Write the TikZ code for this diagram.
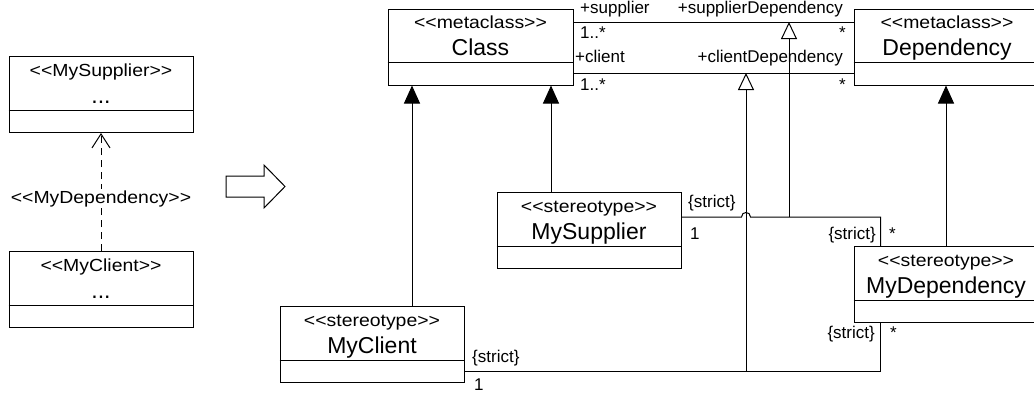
\documentclass[tikz,border=0pt]{standalone}
\usepackage{fontspec}
\setmainfont{Liberation Sans}
\newfontfamily\stfont[FakeStretch=1.11]{Liberation Sans}
\usetikzlibrary{arrows.meta}
\tikzset{
 ubox/.style={draw, line width=1pt, rectangle, inner sep=0pt, minimum height=76pt},
 st/.style={font=\fontsize{17.5}{20}\stfont, inner sep=0pt},
 nm/.style={font=\fontsize{23}{27}\selectfont, inner sep=0pt},
 lbl/.style={font=\fontsize{17}{20}\selectfont, inner sep=0pt},
 lnk/.style={line width=1pt},
 gen/.style={lnk, -{Triangle[length=18pt,width=16pt]}},
 hgen/.style={lnk, -{Triangle[open,length=17pt,width=16pt,fill=white]}},
 deparrow/.style={lnk, dash pattern=on 7pt off 5pt, -{Straight Barb[length=14pt,width=18pt]}}
}
\newcommand\lguil{<\kern0pt<\kern0pt}
\newcommand\rguil{>\kern0pt>}
\newcommand\umlcls[6]{%
 \node[ubox, minimum width=#4pt, anchor=north] (#1) at (#2,#3) {};
 \draw[lnk] ([yshift=-54pt]#1.north west) -- ([yshift=-54pt]#1.north east);
 \node[st, anchor=base] (#1-s) at ([yshift=-20pt]#1.north) {#5};
 \node[nm, anchor=base] (#1-n) at ([yshift=-47pt]#1.north) {#6};
}
\begin{document}
\begin{tikzpicture}[x=1pt,y=-1pt]
\useasboundingbox (0,0) rectangle (1034,394);
\clip (0,0) rectangle (1034,394);
% classes
\umlcls{cls}{480.5}{8.5}{185}{\lguil metaclass\rguil}{Class}
\umlcls{dep}{947}{8.5}{186}{\lguil metaclass\rguil}{Dependency}
\umlcls{msup}{589}{192}{184}{\lguil stereotype\rguil}{MySupplier}
\umlcls{mcli}{372}{306}{184}{\lguil stereotype\rguil}{MyClient}
\umlcls{mdep}{946}{246}{184}{\lguil stereotype\rguil}{MyDependency}
\umlcls{lsup}{101}{56}{184}{\lguil MySupplier\rguil}{...}
\umlcls{lcli}{101}{251}{184}{\lguil MyClient\rguil}{...}
% associations between metaclasses
\coordinate (a1) at ([yshift=-13.5pt]cls.north east);
\coordinate (a2) at ([yshift=-64.5pt]cls.north east);
\draw[lnk] (a1) -- (a1 -| dep.west);
\draw[lnk] (a2) -- (a2 -| dep.west);
\node[lbl, anchor=base west] (l1) at (580,13) {+supplier};
\node[lbl, anchor=base east] (l2) at (843,13) {+supplierDependency};
\node[lbl, anchor=base west] (l3) at (580,38) {1..*};
\node[lbl, anchor=base east] (l4) at (846,38) {*};
\node[lbl, anchor=base west] (l5) at (575,62.7) {+client};
\node[lbl, anchor=base east] (l6) at (843,62.7) {+clientDependency};
\node[lbl, anchor=base west] (l7) at (580,90.7) {1..*};
\node[lbl, anchor=base east] (l8) at (846,90.7) {*};
% stereotype links
\coordinate (s1) at ([yshift=-25pt]msup.north east);
\coordinate (c1) at ([xshift=27pt]mdep.north west);
\coordinate (s2) at ([yshift=-65pt]mcli.north east);
\coordinate (c2) at ([xshift=27pt]mdep.south west);
\coordinate (v1) at (789,0);
\coordinate (v2) at (746,0);
\coordinate (j1) at (s1 -| v1);
\coordinate (j2) at (s2 -| v2);
\coordinate (h) at (s1 -| v2);
\draw[lnk] (s1) -- ([xshift=-4.5pt]h) .. controls ([xshift=-4.5pt,yshift=6pt]h) and ([xshift=4.5pt,yshift=6pt]h) .. ([xshift=4.5pt]h) -- (s1 -| c1) -- (c1);
\draw[lnk] (s2) -- (s2 -| c2) -- (c2);
\draw[hgen] (j1) -- (j1 |- a1);
\draw[hgen] (j2) -- (j2 |- a2);
% generalizations
\coordinate (g1) at ([xshift=40pt]mcli.north);
\coordinate (g2) at ([xshift=-38pt]msup.north);
\draw[gen] (g1) -- (g1 |- cls.south);
\draw[gen] (g2) -- (g2 |- cls.south);
\draw[gen] (mdep.north) -- (mdep.north |- dep.south);
% link labels
\node[lbl, anchor=base west] (t1) at (688,207) {\{strict\}};
\node[lbl, anchor=base west] (t2) at (690,239) {1};
\node[lbl, anchor=base east] (t3) at (876,239) {\{strict\}};
\node[lbl, anchor=base west] (t4) at (889,239) {*};
\node[lbl, anchor=base west] (t5) at (472,362) {\{strict\}};
\node[lbl, anchor=base west] (t6) at (474,390) {1};
\node[lbl, anchor=base east] (t7) at (875,338) {\{strict\}};
\node[lbl, anchor=base west] (t8) at (890,338) {*};
% left dependency
\draw[deparrow] (lcli.north) -- (lsup.south);
\node[st, fill=white, inner sep=1pt, anchor=base] (dl) at (101,203) {\lguil MyDependency\rguil};
% big arrow
\draw[lnk] (226,176) -- (264,176) -- (264,165) -- (285,186.5) -- (264,208) -- (264,197) -- (226,197) -- cycle;
\end{tikzpicture}
\end{document}
